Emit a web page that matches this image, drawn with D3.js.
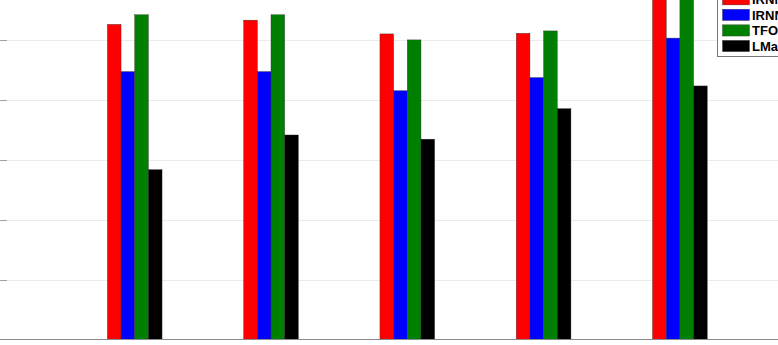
<!DOCTYPE html>
<html>
<head>
<meta charset="utf-8">
<script src="https://cdn.jsdelivr.net/npm/d3@7"></script>
<style>
  html, body { margin: 0; padding: 0; background: #fff; }
  svg { display: block; }
</style>
</head>
<body>
<svg id="chart" width="778" height="345"></svg>
<script>
// ---- data ----
const categories = [1, 2, 3, 4, 5];
const seriesNames = ["IRNN-Lp", "IRNN-SCAD", "TFOCS", "LMaFit"];
const seriesColors = ["#ff0000", "#0000ff", "#008000", "#000000"];
const valsIRNNLp   = [52.7, 53.4, 51.1, 51.2, 58.0];
const valsIRNNSCAD = [44.8, 44.8, 41.6, 43.8, 50.4];
const valsTFOCS    = [54.3, 54.3, 50.1, 51.6, 59.0];
const valsLMaFit   = [28.4, 34.2, 33.5, 38.6, 42.4];
const yTicks = [0, 10, 20, 30, 40, 50, 60];

const seriesValues = [valsIRNNLp, valsIRNNSCAD, valsTFOCS, valsLMaFit];

// ---- layout ----
const W = 778, H = 345;
const svg = d3.select("#chart");

const x = d3.scaleLinear().domain([0, 6]).range([-1.6, 816.2]);
const y = d3.scaleLinear().domain([0, 60]).range([339.5, -19.3]);
const inner = d3.scaleBand().domain(seriesNames).range([-0.2006, 0.2006]).padding(0);

// gridlines
svg.append("g").selectAll("line").data(yTicks.filter(t => t > 0)).join("line")
  .attr("x1", x(0)).attr("x2", W)
  .attr("y1", d => Math.round(y(d)) + 0.5).attr("y2", d => Math.round(y(d)) + 0.5)
  .attr("stroke", "#ebebeb").attr("stroke-width", 1);

// y tick marks (inside)
svg.append("g").selectAll("line").data(yTicks.filter(t => t > 0)).join("line")
  .attr("x1", x(0)).attr("x2", x(0) + 8.5)
  .attr("y1", d => Math.round(y(d)) + 0.5).attr("y2", d => Math.round(y(d)) + 0.5)
  .attr("stroke", "#a0a0a0").attr("stroke-width", 1);

// bars
const bw = x(inner.bandwidth()) - x(0);
seriesNames.forEach((s, si) => {
  svg.append("g").selectAll("rect").data(categories).join("rect")
    .attr("x", (c) => x(c + inner(s)))
    .attr("y", (c, i) => y(seriesValues[si][i]))
    .attr("width", bw)
    .attr("height", (c, i) => y(0) - y(seriesValues[si][i]))
    .attr("fill", seriesColors[si])
    .attr("stroke", "#333")
    .attr("stroke-width", 0.4);
});

// x axis line
svg.append("line")
  .attr("x1", 0).attr("x2", W)
  .attr("y1", 339.5).attr("y2", 339.5)
  .attr("stroke", "#8a8a8a").attr("stroke-width", 1);

// legend
const lg = svg.append("g");
lg.append("rect")
  .attr("x", 717.5).attr("y", -30).attr("width", 120).attr("height", 86.5)
  .attr("fill", "#fff").attr("stroke", "#777").attr("stroke-width", 1);
const rowY = d3.scaleLinear().domain([0, 3]).range([-0.7, 46]);
seriesNames.forEach((s, i) => {
  lg.append("rect")
    .attr("x", 722.5).attr("y", rowY(i) - 5.6)
    .attr("width", 27).attr("height", 11.2)
    .attr("fill", seriesColors[i]).attr("stroke", "#333").attr("stroke-width", 0.4);
  lg.append("text")
    .attr("x", 752).attr("y", rowY(i) + 4.8)
    .attr("font-family", "Liberation Sans, Arial, sans-serif")
    .attr("font-weight", "bold").attr("font-size", 13)
    .attr("fill", "#000")
    .text(s);
});
</script>
</body>
</html>
